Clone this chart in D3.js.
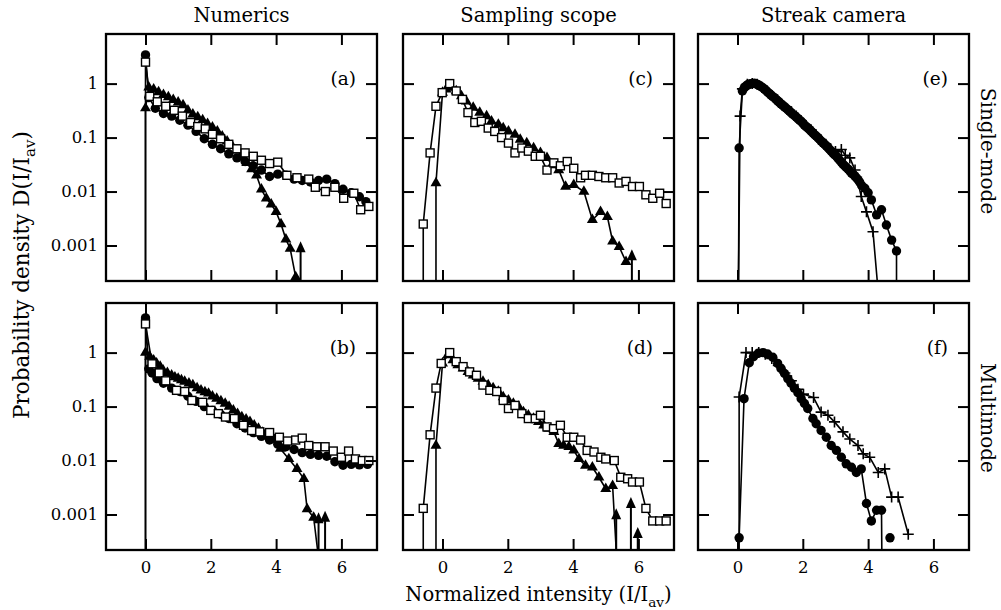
<!DOCTYPE html>
<html>
<head>
<meta charset="utf-8">
<script src="https://cdn.jsdelivr.net/npm/d3@7"></script>
<style>
  body { margin: 0; background: #fff; }
  text { font-family: "DejaVu Serif", serif; fill: #000; }
</style>
</head>
<body>
<svg width="1001" height="610"></svg>
<script>
// ---- data (x = I/Iav, y = probability density; 0 = off scale, drawn at the bottom) ----
var colTitles = ["Numerics", "Sampling scope", "Streak camera"];
var rowTitles = ["Single-mode", "Multimode"];
var xTicks = [0, 2, 4, 6];
var yTicks = [1, 0.1, 0.01, 0.001];
var yTickLabels = ["1", "0.1", "0.01", "0.001"];

// (a) numerics, single-mode
var aCircles = [[0,0],[0,3.4],[0.1,0.55],[0.3,0.35],[0.55,0.28],[0.8,0.25],[1.05,0.21],[1.3,0.17],[1.55,0.13],[1.8,0.095],[2.05,0.075],[2.3,0.062],[2.55,0.05],[2.8,0.042],[3.05,0.036],[3.3,0.03],[3.55,0.025],[3.8,0.019],[4.05,0.021],[4.3,0.02],[4.55,0.017],[4.8,0.016],[5.05,0.015],[5.3,0.016],[5.55,0.017],[5.8,0.014],[6.05,0.011],[6.3,0.0095],[6.55,0.008],[6.75,0.0065]];
var aSquares = [[0,2.5],[0.13,0.58],[0.36,0.46],[0.62,0.38],[0.88,0.32],[1.13,0.25],[1.38,0.19],[1.6,0.16],[1.83,0.145],[2.05,0.115],[2.3,0.095],[2.55,0.075],[2.8,0.062],[3.05,0.052],[3.3,0.045],[3.55,0.038],[3.8,0.033],[4.05,0.035],[4.33,0.02],[4.64,0.018],[5.0,0.017],[5.2,0.012],[5.51,0.01],[5.8,0.012],[6.07,0.0075],[6.38,0.0093],[6.59,0.0046],[6.84,0.0053]];
var aTriangles = [[0,0],[0,0.35],[0.1,0.85],[0.25,0.78],[0.4,0.7],[0.55,0.62],[0.7,0.56],[0.85,0.5],[1.0,0.45],[1.15,0.4],[1.3,0.32],[1.45,0.27],[1.6,0.24],[1.75,0.21],[1.9,0.18],[2.05,0.155],[2.2,0.13],[2.35,0.105],[2.5,0.085],[2.65,0.07],[2.8,0.058],[2.95,0.045],[3.1,0.034],[3.25,0.026],[3.4,0.02],[3.55,0.011],[3.7,0.0075],[3.85,0.0058],[4.0,0.0042],[4.15,0.0025],[4.3,0.0013],[4.43,0.00088],[4.6,0.00026]];
var aArrows = [[4.75,0.0012]];

// (b) numerics, multimode
var bCircles = [[0,0],[0,4.4],[0.1,0.5],[0.2,0.42],[0.35,0.33],[0.55,0.27],[0.8,0.22],[1.05,0.19],[1.3,0.155],[1.55,0.125],[1.8,0.1],[2.05,0.085],[2.3,0.072],[2.55,0.06],[2.8,0.048],[3.05,0.04],[3.3,0.033],[3.55,0.028],[3.8,0.024],[4.05,0.02],[4.3,0.018],[4.55,0.016],[4.8,0.014],[5.05,0.013],[5.3,0.0125],[5.55,0.012],[5.8,0.0095],[6.05,0.0082],[6.3,0.0085],[6.55,0.0083],[6.8,0.0085]];
var bSquares = [[0,3.4],[0.2,0.62],[0.42,0.42],[0.62,0.3],[0.95,0.2],[1.2,0.19],[1.42,0.13],[1.75,0.12],[2.0,0.085],[2.23,0.074],[2.45,0.064],[2.72,0.06],[3.0,0.045],[3.25,0.036],[3.5,0.034],[3.8,0.033],[4.1,0.027],[4.35,0.023],[4.6,0.024],[4.8,0.026],[5.0,0.019],[5.25,0.018],[5.5,0.018],[5.75,0.015],[6.0,0.0115],[6.22,0.015],[6.43,0.0107],[6.64,0.01],[6.84,0.01]];
var bTriangles = [[0,0],[0,1.0],[0.13,0.84],[0.25,0.72],[0.34,0.63],[0.45,0.55],[0.54,0.47],[0.67,0.42],[0.8,0.38],[0.9,0.35],[1.0,0.33],[1.1,0.31],[1.2,0.29],[1.33,0.27],[1.45,0.25],[1.58,0.22],[1.7,0.2],[1.82,0.185],[1.93,0.175],[2.05,0.155],[2.18,0.14],[2.31,0.127],[2.44,0.114],[2.56,0.1],[2.69,0.085],[2.82,0.073],[2.95,0.064],[3.08,0.058],[3.2,0.052],[3.33,0.045],[3.46,0.039],[3.59,0.033],[3.72,0.029],[3.92,0.025],[4.13,0.0166],[4.39,0.0107],[4.64,0.007],[4.85,0.0046],[4.95,0.00126],[5.15,0.00088],[5.27,0]];
var bArrows = [[5.3,0.0011],[5.5,0.00118]];

// (c) sampling scope, single-mode
var cSquares = [[-0.59,0],[-0.59,0.0025],[-0.38,0.052],[-0.2,0.38],[-0.01,0.68],[0.22,1.0],[0.42,0.73],[0.61,0.51],[0.78,0.29],[0.99,0.19],[1.19,0.2],[1.4,0.15],[1.6,0.13],[1.81,0.1],[2.02,0.079],[2.22,0.052],[2.43,0.064],[2.63,0.056],[2.84,0.045],[3.0,0.045],[3.2,0.025],[3.41,0.034],[3.61,0.03],[3.82,0.036],[4.02,0.027],[4.23,0.018],[4.38,0.02],[4.59,0.02],[4.79,0.019],[5.0,0.018],[5.21,0.018],[5.41,0.0144],[5.62,0.0154],[5.82,0.0124],[6.03,0.0124],[6.23,0.0087],[6.44,0.0075],[6.65,0.0093],[6.85,0.006]];
var cTriangles = [[-0.2,0],[-0.2,0.0144],[0.0,0.68],[0.11,0.78],[0.27,0.84],[0.42,0.73],[0.58,0.59],[0.73,0.47],[0.94,0.36],[1.14,0.29],[1.35,0.25],[1.5,0.2],[1.71,0.175],[1.86,0.15],[2.02,0.13],[2.22,0.114],[2.38,0.092],[2.58,0.079],[2.79,0.064],[3.0,0.052],[3.2,0.042],[3.35,0.031],[3.56,0.025],[3.77,0.0124],[4.02,0.0133],[4.33,0.01],[4.59,0.003],[4.84,0.0042],[5.05,0.0034],[5.21,0.0012],[5.41,0.00095],[5.62,0.0005]];
var cArrows = [[5.8,0.00085]];

// (d) sampling scope, multimode
var dSquares = [[-0.59,0],[-0.59,0.0013],[-0.38,0.03],[-0.2,0.22],[-0.04,0.63],[0.22,1.0],[0.42,0.68],[0.63,0.55],[0.83,0.44],[1.04,0.38],[1.24,0.25],[1.45,0.2],[1.66,0.19],[1.86,0.13],[2.02,0.092],[2.22,0.105],[2.43,0.074],[2.63,0.06],[2.84,0.06],[3.0,0.069],[3.2,0.042],[3.4,0.039],[3.61,0.045],[3.82,0.027],[4.02,0.027],[4.23,0.024],[4.43,0.0154],[4.64,0.0144],[4.85,0.0115],[5.0,0.0107],[5.26,0.01],[5.46,0.0049],[5.67,0.0046],[5.82,0.004],[6.03,0.004],[6.23,0.0013],[6.44,0.00076],[6.65,0.00076],[6.85,0.00076]];
var dTriangles = [[-0.2,0],[-0.2,0.019],[0.0,0.63],[0.16,0.9],[0.32,0.73],[0.47,0.59],[0.63,0.51],[0.78,0.44],[0.94,0.38],[1.09,0.33],[1.24,0.29],[1.4,0.25],[1.55,0.22],[1.71,0.19],[1.86,0.15],[2.02,0.13],[2.17,0.114],[2.33,0.1],[2.48,0.079],[2.63,0.069],[2.79,0.06],[2.94,0.052],[3.1,0.045],[3.25,0.039],[3.41,0.034],[3.56,0.0204],[3.71,0.019],[3.87,0.018],[4.02,0.0154],[4.18,0.0107],[4.38,0.0081],[4.59,0.0075],[4.79,0.0049],[5.0,0.003],[5.21,0.0034],[5.32,0]];
var dArrows = [[5.32,0.0013],[5.77,0.0021],[5.98,0.00059]];

// (e) streak camera, single-mode
var eCircles = [[0.03,0],[0.05,0.064],[0.15,0.73],[0.21,0.84],[0.26,0.9],[0.31,0.95],[0.36,0.98],[0.41,1.0],[0.46,1.0],[0.51,1.02],[0.56,1.0],[0.61,0.96],[0.66,0.93],[0.71,0.89],[0.76,0.85],[0.82,0.8],[0.87,0.75],[0.92,0.7],[0.97,0.66],[1.02,0.62],[1.07,0.58],[1.13,0.55],[1.18,0.51],[1.23,0.48],[1.28,0.45],[1.33,0.42],[1.38,0.4],[1.44,0.37],[1.49,0.35],[1.54,0.33],[1.59,0.31],[1.64,0.29],[1.69,0.27],[1.75,0.255],[1.8,0.24],[1.85,0.225],[1.9,0.21],[1.95,0.2],[2.0,0.185],[2.05,0.17],[2.1,0.16],[2.16,0.15],[2.21,0.14],[2.26,0.13],[2.31,0.122],[2.36,0.113],[2.41,0.107],[2.46,0.1],[2.51,0.093],[2.56,0.086],[2.62,0.08],[2.67,0.075],[2.72,0.07],[2.77,0.065],[2.82,0.06],[2.87,0.056],[2.92,0.052],[2.97,0.048],[3.03,0.045],[3.08,0.041],[3.13,0.038],[3.18,0.035],[3.23,0.032],[3.28,0.03],[3.33,0.028],[3.39,0.026],[3.44,0.024],[3.49,0.022],[3.54,0.021],[3.59,0.0195],[3.64,0.018],[3.69,0.0166],[3.74,0.015],[3.8,0.013],[3.9,0.0115],[4.0,0.0095],[4.1,0.007],[4.26,0.0037],[4.41,0.0046],[4.56,0.0024],[4.72,0.00126],[4.87,0.00079],[4.87,0]];
var ePluses = [[0.03,0],[0.08,0.25],[0.15,0.8],[0.3,0.97],[0.45,1.0],[0.6,0.97],[0.75,0.86],[0.9,0.73],[1.05,0.6],[1.2,0.5],[1.35,0.42],[1.5,0.35],[1.65,0.3],[1.8,0.25],[1.95,0.2],[2.1,0.165],[2.25,0.14],[2.4,0.11],[2.55,0.09],[2.7,0.075],[2.85,0.062],[3.0,0.055],[3.18,0.06],[3.3,0.047],[3.44,0.042],[3.6,0.025],[3.79,0.0081],[3.95,0.0042],[4.15,0.0018],[4.28,0]];

// (f) streak camera, multimode
var fCircles = [[0.05,0.00037],[0.2,0.14],[0.36,0.65],[0.49,0.84],[0.64,0.98],[0.78,1.0],[0.92,0.94],[1.08,0.82],[1.23,0.63],[1.33,0.51],[1.44,0.41],[1.54,0.33],[1.64,0.27],[1.74,0.22],[1.85,0.18],[1.95,0.14],[2.05,0.114],[2.15,0.092],[2.31,0.06],[2.41,0.048],[2.56,0.036],[2.72,0.027],[2.87,0.019],[3.03,0.0154],[3.18,0.0115],[3.33,0.0087],[3.49,0.0075],[3.64,0.006],[3.79,0.007],[3.95,0.0016],[4.1,0.00076],[4.26,0.0012],[4.41,0.0012],[4.42,0],[4.55,null],[4.67,0.00037]];
var fPluses = [[0.05,0],[0.05,0.15],[0.26,1.0],[0.45,1.0],[0.65,1.0],[0.85,0.93],[1.05,0.78],[1.25,0.58],[1.45,0.42],[1.65,0.3],[1.85,0.21],[2.02,0.17],[2.33,0.147],[2.56,0.079],[2.77,0.069],[2.97,0.052],[3.23,0.034],[3.44,0.025],[3.69,0.019],[3.85,0.0133],[4.05,0.0115],[4.31,0.006],[4.51,0.007],[4.72,0.0021],[4.92,0.0021],[5.23,0.00043]];

// ---- layout ----
var svg = d3.select("svg");
var pw = 271, ph = 247;
var colX = [106, 403, 698], rowY = [34, 303];

var panels = [
  {label: "(a)", col: 0, row: 0, circles: aCircles, squares: aSquares, triangles: aTriangles, arrows: aArrows},
  {label: "(b)", col: 0, row: 1, circles: bCircles, squares: bSquares, triangles: bTriangles, arrows: bArrows},
  {label: "(c)", col: 1, row: 0, squares: cSquares, triangles: cTriangles, arrows: cArrows},
  {label: "(d)", col: 1, row: 1, squares: dSquares, triangles: dTriangles, arrows: dArrows},
  {label: "(e)", col: 2, row: 0, circles: eCircles, pluses: ePluses},
  {label: "(f)", col: 2, row: 1, circles: fCircles, pluses: fPluses}
];

var xScale = d3.scaleLinear().domain([-1.21, 7.09]).range([0, pw]);
var yScale = d3.scaleLog().domain([2.2e-4, 8.3]).range([ph, 0]);

function yPos(v) { return v > 0 ? yScale(v) : ph; }

var line = d3.line()
  .defined(function (d) { return d[1] !== null; })
  .x(function (d) { return xScale(d[0]); })
  .y(function (d) { return yPos(d[1]); });

function shown(arr) {
  return (arr || []).filter(function (d) { return d[1] !== null && d[1] > 0; });
}

var triSym = d3.symbol().type(d3.symbolTriangle).size(52);

panels.forEach(function (p) {
  var g = svg.append("g")
    .attr("transform", "translate(" + colX[p.col] + "," + rowY[p.row] + ")");

  // lines
  ["circles", "triangles", "squares", "pluses"].forEach(function (k) {
    if (!p[k]) return;
    g.append("path")
      .attr("d", line(p[k]))
      .attr("fill", "none")
      .attr("stroke", "#000")
      .attr("stroke-width", 1.6);
  });

  // arrows (off-scale points)
  (p.arrows || []).forEach(function (a) {
    var x = xScale(a[0]), y = yScale(a[1]);
    g.append("line")
      .attr("x1", x).attr("x2", x)
      .attr("y1", ph).attr("y2", y + 6)
      .attr("stroke", "#000").attr("stroke-width", 2);
    g.append("path")
      .attr("d", "M" + x + "," + y + "L" + (x - 5) + "," + (y + 11) + "L" + (x + 5) + "," + (y + 11) + "Z")
      .attr("fill", "#000");
  });

  g.selectAll(".circ").data(shown(p.circles)).enter().append("circle")
    .attr("cx", function (d) { return xScale(d[0]); })
    .attr("cy", function (d) { return yScale(d[1]); })
    .attr("r", 4.7)
    .attr("fill", "#000");

  g.selectAll(".tri").data(shown(p.triangles)).enter().append("path")
    .attr("d", triSym)
    .attr("transform", function (d) { return "translate(" + xScale(d[0]) + "," + yScale(d[1]) + ")"; })
    .attr("fill", "#000");

  g.selectAll(".sq").data(shown(p.squares)).enter().append("rect")
    .attr("x", function (d) { return xScale(d[0]) - 4; })
    .attr("y", function (d) { return yScale(d[1]) - 4; })
    .attr("width", 8).attr("height", 8)
    .attr("fill", "#fff").attr("stroke", "#000").attr("stroke-width", 1.4);

  g.selectAll(".pl").data(shown(p.pluses)).enter().append("path")
    .attr("d", function (d) {
      var x = xScale(d[0]), y = yScale(d[1]);
      return "M" + (x - 5.5) + "," + y + "H" + (x + 5.5) + "M" + x + "," + (y - 5.5) + "V" + (y + 5.5);
    })
    .attr("stroke", "#000").attr("stroke-width", 1.6).attr("fill", "none");

  // axes with inward ticks on all four sides
  var axes = [
    {ax: d3.axisBottom(xScale).tickValues(xTicks).tickFormat(p.row === 1 ? d3.format("d") : ""), t: "translate(0," + ph + ")"},
    {ax: d3.axisTop(xScale).tickValues(xTicks).tickFormat(""), t: null},
    {ax: d3.axisLeft(yScale).tickValues(yTicks).tickFormat(function (d, i) { return p.col === 0 ? yTickLabels[i] : ""; }), t: null},
    {ax: d3.axisRight(yScale).tickValues(yTicks).tickFormat(""), t: "translate(" + pw + ",0)"}
  ];
  axes.forEach(function (a, i) {
    var ag = g.append("g");
    if (a.t) ag.attr("transform", a.t);
    ag.call(a.ax.tickSize(-11).tickPadding(i === 0 ? 11 : 8));
    ag.select(".domain").remove();
    ag.selectAll("line").attr("stroke-width", 2);
    ag.selectAll("text").style("font-family", "'DejaVu Serif', serif").style("font-size", "16.5px");
  });

  g.append("rect")
    .attr("width", pw).attr("height", ph)
    .attr("fill", "none").attr("stroke", "#000").attr("stroke-width", 2.3);

  g.append("text")
    .attr("x", pw - 21).attr("y", yScale(1) + 1)
    .attr("text-anchor", "end")
    .style("font-size", "18.5px")
    .text(p.label);
});

// column titles
colTitles.forEach(function (t, i) {
  svg.append("text")
    .attr("x", colX[i] + pw / 2).attr("y", 22)
    .attr("text-anchor", "middle")
    .style("font-size", "19.5px")
    .text(t);
});

// row titles on the right
[[151, 981], [418, 981]].forEach(function (pos, i) {
  svg.append("text")
    .attr("transform", "translate(" + pos[1] + "," + pos[0] + ") rotate(90)")
    .attr("text-anchor", "middle")
    .style("font-size", "20px")
    .text(rowTitles[i]);
});

// axis titles
function subLabel(sel, main, size) {
  sel.append("tspan").text(main);
  sel.append("tspan").attr("dy", size * 0.3).style("font-size", (size * 0.7) + "px").text("av");
  sel.append("tspan").attr("dy", -size * 0.3).text(")");
}

var xl = svg.append("text")
  .attr("x", 538.5).attr("y", 601)
  .attr("text-anchor", "middle")
  .style("font-size", "19.5px");
subLabel(xl, "Normalized intensity (I/I", 19.5);

var yl = svg.append("text")
  .attr("transform", "translate(29,275) rotate(-90)")
  .attr("text-anchor", "middle")
  .style("font-size", "21.5px");
subLabel(yl, "Probability density D(I/I", 21.5);
</script>
</body>
</html>
